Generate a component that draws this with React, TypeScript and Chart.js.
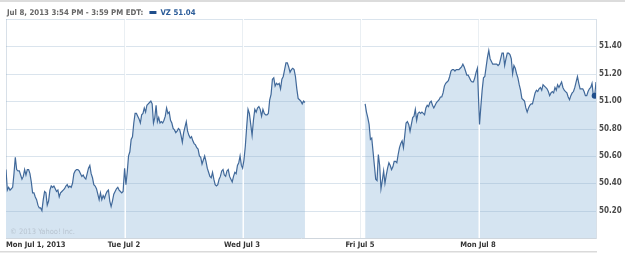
import { useEffect, useRef } from 'react';
import { Chart, registerables } from 'chart.js';

Chart.register(...registerables);

// ---------- data ----------
const dayLabels = ['Mon Jul 1, 2013', 'Tue Jul 2', 'Wed Jul 3', 'Fri Jul 5', 'Mon Jul 8'];
// minutes after the 9:30 open covered by each day's readings
const sessionStartMin = [0, 2, 2, 17, 5];
const sessionEndMin = [387, 388, 208, 388, 390];
const minutesPerDay = 390;

const jul1Prices = [
  50.50, 50.35, 50.37, 50.35, 50.36, 50.37, 50.47, 50.59, 50.50, 50.49,
  50.49, 50.46, 50.43, 50.45, 50.50, 50.46, 50.50, 50.50, 50.47, 50.41,
  50.33, 50.33, 50.30, 50.28, 50.24, 50.22, 50.22, 50.20, 50.28, 50.34,
  50.33, 50.24, 50.27, 50.35, 50.38, 50.37, 50.38, 50.36, 50.34, 50.35,
  50.30, 50.33, 50.34, 50.35, 50.36, 50.38, 50.39, 50.37, 50.38, 50.37,
  50.40, 50.47, 50.49, 50.50, 50.50, 50.49, 50.47, 50.45, 50.46, 50.44,
  50.43, 50.47, 50.51, 50.53, 50.47, 50.44, 50.39, 50.38, 50.36, 50.32,
  50.28, 50.33, 50.28, 50.31, 50.29, 50.32, 50.34, 50.35, 50.27, 50.23,
  50.27, 50.32, 50.34, 50.36, 50.37, 50.35, 50.34, 50.33, 50.34,
];
const jul2Prices = [
  50.51, 50.39, 50.48, 50.60, 50.63, 50.72, 50.74, 50.84, 50.91, 50.91,
  50.89, 50.87, 50.84, 50.90, 50.91, 50.95, 50.92, 50.97, 50.98, 50.99,
  51.00, 50.98, 50.84, 50.88, 50.97, 50.85, 50.88, 50.84, 50.85, 50.84,
  50.86, 50.89, 50.95, 50.91, 50.92, 50.86, 50.84, 50.80, 50.79, 50.77,
  50.78, 50.80, 50.79, 50.75, 50.70, 50.77, 50.81, 50.85, 50.78, 50.75,
  50.73, 50.74, 50.71, 50.69, 50.68, 50.66, 50.65, 50.60, 50.59, 50.54,
  50.57, 50.60, 50.56, 50.51, 50.48, 50.45, 50.44, 50.48, 50.43, 50.39,
  50.38, 50.39, 50.43, 50.45, 50.49, 50.50, 50.46, 50.45, 50.49, 50.50,
  50.45, 50.43, 50.41, 50.45, 50.48, 50.47, 50.53, 50.55, 50.60, 50.53,
];
const jul3Prices = [
  50.51, 50.57, 50.67, 50.81, 50.94, 50.91, 50.83, 50.75, 50.86, 50.94,
  50.92, 50.95, 50.96, 50.94, 50.89, 50.94, 50.91, 50.90, 50.90, 50.91,
  51.01, 51.05, 51.16, 51.17, 51.11, 51.13, 51.12, 51.13, 51.09, 51.16,
  51.18, 51.23, 51.28, 51.28, 51.25, 51.21, 51.23, 51.24, 51.23, 51.18,
  51.09, 51.02, 51.01, 51.00, 50.98, 51.00, 50.99,
];
const jul5Prices = [
  50.98, 50.92, 50.88, 50.83, 50.72, 50.73, 50.63, 50.53, 50.43, 50.42,
  50.61, 50.53, 50.36, 50.42, 50.49, 50.40, 50.46, 50.51, 50.55, 50.53,
  50.50, 50.52, 50.56, 50.56, 50.55, 50.61, 50.66, 50.69, 50.71, 50.66,
  50.75, 50.84, 50.85, 50.83, 50.78, 50.83, 50.88, 50.89, 50.94, 50.86,
  50.91, 50.92, 50.91, 50.92, 50.91, 50.90, 50.95, 50.97, 50.96, 50.99,
  51.00, 50.97, 50.95, 50.97, 50.99, 51.00, 51.01, 51.03, 51.03, 51.06,
  51.11, 51.13, 51.14, 51.15, 51.18, 51.22, 51.23, 51.23, 51.22, 51.23,
  51.23, 51.23, 51.24, 51.25, 51.27, 51.25, 51.22, 51.19, 51.19, 51.17,
  51.15, 51.14, 51.14, 51.17, 51.21, 51.24,
];
const jul8Prices = [
  50.83, 50.96, 51.08, 51.17, 51.18, 51.25, 51.32, 51.37, 51.31, 51.29,
  51.27, 51.27, 51.27, 51.27, 51.26, 51.27, 51.31, 51.35, 51.35, 51.26,
  51.31, 51.35, 51.35, 51.34, 51.31, 51.20, 51.26, 51.24, 51.20, 51.17,
  51.12, 51.08, 51.02, 51.01, 51.00, 50.95, 50.92, 50.95, 50.97, 50.98,
  50.98, 51.02, 51.06, 51.08, 51.07, 51.09, 51.10, 51.08, 51.12, 51.11,
  51.10, 51.09, 51.07, 51.04, 51.06, 51.07, 51.06, 51.10, 51.08, 51.12,
  51.10, 51.12, 51.14, 51.10, 51.08, 51.07, 51.06, 51.03, 51.01, 51.04,
  51.06, 51.07, 51.10, 51.14, 51.18, 51.13, 51.09, 51.09, 51.09, 51.07,
  51.04, 51.04, 51.07, 51.09, 51.10, 51.13, 51.04, 51.04, 51.14,
];

const yMin = 50.0;
const yMax = 51.6;
const yStep = 0.2;

const headerRange = 'Jul 8, 2013 3:54 PM - 3:59 PM EDT:';
const symbol = 'VZ';
const hoverPrice = 51.04;
const copyright = '\u00A9 2013 Yahoo! Inc.';

// ---------- styling ----------
const FONT = '"DejaVu Sans Condensed", "DejaVu Sans", Verdana, sans-serif';
const LINE = '#41699a';
const FILL = 'rgb(213,228,241)';
const GRID = '#d8e0e8';

function toPoints(dayIdx: number, prices: number[]) {
  const s = sessionStartMin[dayIdx];
  const e = sessionEndMin[dayIdx];
  const step = (e - s) / (prices.length - 1);
  return prices.map((p, i) => ({ x: dayIdx * minutesPerDay + s + i * step, y: p }));
}

export default function App() {
  const ref = useRef<HTMLCanvasElement | null>(null);

  useEffect(() => {
    const canvas = ref.current;
    if (!canvas) return;

    const groupA = [...toPoints(0, jul1Prices), ...toPoints(1, jul2Prices), ...toPoints(2, jul3Prices)];
    const groupB = [...toPoints(3, jul5Prices), ...toPoints(4, jul8Prices)];
    const hoverIdx = groupB.length - 2;
    const dayTicks = dayLabels.map((_, i) => i * minutesPerDay).concat([dayLabels.length * minutesPerDay]);

    const gridPlugin = {
      id: 'yahooGrid',
      beforeDatasetsDraw(chart: any) {
        const { ctx, chartArea: a, scales } = chart;
        const ys = scales.y;
        const xs = scales.x;
        ctx.save();
        ctx.lineWidth = 1;
        ctx.strokeStyle = 'rgba(140,170,198,0.32)';
        ys.ticks.forEach((t: any) => {
          if (t.value <= yMin + 1e-6) return;
          const py = Math.round(ys.getPixelForValue(t.value)) + 0.5;
          ctx.beginPath();
          ctx.moveTo(a.left, py);
          ctx.lineTo(a.right, py);
          ctx.stroke();
        });
        ctx.strokeStyle = 'rgba(255,255,255,0.95)';
        ctx.lineWidth = 1.5;
        xs.ticks.forEach((t: any) => {
          if (t.value <= 0 || t.value >= dayLabels.length * minutesPerDay) return;
          const px = Math.round(xs.getPixelForValue(t.value)) + 1.25;
          ctx.beginPath();
          ctx.moveTo(px, a.top);
          ctx.lineTo(px, a.bottom);
          ctx.stroke();
        });
        ctx.restore();
      },
      afterDraw(chart: any) {
        const { ctx, chartArea: a } = chart;
        ctx.save();
        // top band
        ctx.fillStyle = '#dcdcdc';
        ctx.fillRect(0, 0, chart.width, 2);
        // header
        ctx.font = 'bold 7.8px ' + FONT;
        ctx.textBaseline = 'middle';
        ctx.textAlign = 'left';
        ctx.fillStyle = '#666666';
        ctx.fillText(headerRange, 7, 12.5);
        const w = ctx.measureText(headerRange).width;
        ctx.fillStyle = '#1f4e8c';
        ctx.fillRect(7 + w + 6, 11, 7, 3);
        ctx.fillStyle = '#2b5c99';
        ctx.fillText(symbol + ' ' + hoverPrice.toFixed(2), 7 + w + 17, 12.5);
        // copyright
        ctx.font = '7.5px ' + FONT;
        ctx.fillStyle = '#b9c5d1';
        ctx.fillText(copyright, a.left + 4, a.bottom - 6);
        // bottom band
        ctx.fillStyle = '#dadada';
        ctx.fillRect(0, 251, a.right + 1, 1.5);
        ctx.restore();
      },
    };

    const chart = new Chart(canvas, {
      type: 'line',
      data: {
        datasets: [
          {
            data: groupA,
            borderColor: LINE,
            borderWidth: 1.2,
            backgroundColor: FILL,
            fill: 'start',
            pointRadius: 0,
            tension: 0,
          },
          {
            data: groupB,
            borderColor: LINE,
            borderWidth: 1.2,
            backgroundColor: FILL,
            fill: 'start',
            pointRadius: (c: any) => (c.dataIndex === hoverIdx ? 3 : 0),
            pointBackgroundColor: '#1f4e8c',
            pointBorderColor: '#1f4e8c',
            pointBorderWidth: 0,
            tension: 0,
          },
        ],
      },
      options: {
        responsive: false,
        animation: false,
        devicePixelRatio: 1,
        parsing: false,
        normalized: true,
        events: [],
        layout: { padding: { top: 19, left: 6, right: 0, bottom: 0 } },
        plugins: {
          legend: { display: false },
          tooltip: { enabled: false },
          filler: { drawTime: 'beforeDatasetsDraw' },
        },
        scales: {
          x: {
            type: 'linear',
            min: 0,
            max: dayLabels.length * minutesPerDay,
            afterBuildTicks: (scale: any) => {
              scale.ticks = dayTicks.map((v) => ({ value: v }));
            },
            afterFit: (scale: any) => {
              scale.height = 17;
            },
            grid: { color: GRID, lineWidth: 1, drawTicks: false },
            border: { display: true, color: '#cfd6dd' },
            ticks: {
              align: 'inner',
              padding: 2,
              maxRotation: 0,
              autoSkip: false,
              color: '#333333',
              font: { family: FONT, size: 7.6, weight: 'bold' },
              callback: (v: any) => {
                const i = Math.round(Number(v) / minutesPerDay);
                return dayLabels[i] ?? '';
              },
            },
          },
          y: {
            type: 'linear',
            position: 'right',
            min: yMin,
            max: yMax,
            afterFit: (scale: any) => {
              scale.width = 29;
            },
            grid: { display: false, drawTicks: false },
            border: { display: true, color: GRID },
            ticks: {
              stepSize: yStep,
              padding: 3,
              color: '#4a4a4a',
              font: { family: FONT, size: 8, weight: 'bold' },
              callback: (v: any) => {
                const n = Number(v);
                if (n <= yMin + 1e-6 || n >= yMax - 1e-6) return '';
                return n.toFixed(2);
              },
            },
          },
        },
      },
      plugins: [gridPlugin],
    } as any);

    return () => chart.destroy();
  }, []);

  return (
    <div style={{ position: 'absolute', left: 0, top: 0, width: 625, height: 255, background: '#fff' }}>
      <canvas ref={ref} width={625} height={255} style={{ display: 'block', width: 625, height: 255 }} />
    </div>
  );
}
